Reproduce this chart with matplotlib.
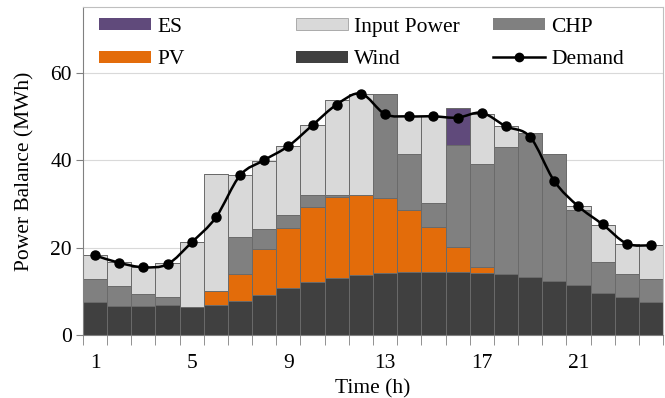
import numpy as np
import matplotlib
matplotlib.use('Agg')
import matplotlib.pyplot as plt
from matplotlib.path import Path
from matplotlib.patches import PathPatch, Patch
from matplotlib.lines import Line2D

# hourly power balance (MWh)
hours = np.arange(1, 25)
wind = [7.5, 6.6, 6.6, 6.9, 6.4, 6.9, 7.8, 9.1, 10.7, 12.1, 13.0, 13.8,
        14.2, 14.3, 14.3, 14.3, 14.1, 13.9, 13.2, 12.3, 11.4, 9.5, 8.6, 7.5]
pv = [0, 0, 0, 0, 0, 3.1, 6.1, 10.5, 13.8, 17.1, 18.5, 18.1,
      17.1, 14.2, 10.4, 5.9, 1.5, 0, 0, 0, 0, 0, 0, 0]
chp = [5.4, 4.7, 2.8, 1.7, 0, 0, 8.5, 4.6, 2.9, 2.8, 0.4, 0,
       23.7, 12.8, 5.5, 23.3, 23.5, 29.1, 33.1, 29.0, 17.1, 7.1, 5.3, 5.4]
input_power = [5.3, 5.4, 6.1, 7.8, 14.8, 26.9, 14.1, 15.7, 15.8, 16.0, 21.9, 23.3,
               0, 8.7, 19.8, 0, 11.5, 4.7, 0, 0, 1.0, 8.5, 7.0, 7.6]
es = [0, 0, 0, 0, 0, 0, 0, 0, 0, 0, 0, 0,
      0, 0, 0, 8.3, 0, 0, 0, 0, 0, 0, 0, 0]
demand = [18.2, 16.5, 15.5, 16.2, 21.2, 26.9, 36.5, 40.0, 43.2, 48.0, 52.7, 55.2,
          50.5, 50.0, 50.0, 49.7, 50.8, 47.7, 45.3, 35.2, 29.4, 25.3, 20.9, 20.5]
xtick_labels = [1, 5, 9, 13, 17, 21]

COLORS = {'Wind': '#404040', 'PV': '#E36C0A', 'CHP': '#808080',
          'Input Power': '#D9D9D9', 'ES': '#604A7B'}
EDGE = '#6a6a6a'
FONT = 'Liberation Serif'
FS = 15.5

plt.rcParams['font.family'] = FONT


def smooth_path(x, y):
    """Excel-style smoothed line: Catmull-Rom segments as cubic Beziers."""
    pts = np.column_stack([x, y]).astype(float)
    ext = np.vstack([pts[0], pts, pts[-1]])
    verts = [pts[0]]
    codes = [Path.MOVETO]
    for i in range(1, len(ext) - 2):
        p0, p1, p2, p3 = ext[i - 1], ext[i], ext[i + 1], ext[i + 2]
        verts += [p1 + (p2 - p0) / 6, p2 - (p3 - p1) / 6, p2]
        codes += [Path.CURVE4] * 3
    return Path(verts, codes)


fig = plt.figure(figsize=(6.65, 3.98), dpi=100)
ax = fig.add_axes([0.1248, 0.1583, 0.8722, 0.8241])

series = [('Wind', wind), ('PV', pv), ('CHP', chp),
          ('Input Power', input_power), ('ES', es)]
bottom = np.zeros(len(hours))
for name, vals in series:
    vals = np.asarray(vals, dtype=float)
    ax.bar(hours, vals, width=1.0, bottom=bottom, color=COLORS[name],
           edgecolor=EDGE, linewidth=0.7, zorder=2)
    bottom += vals

ax.add_patch(PathPatch(smooth_path(hours, demand), facecolor='none',
                       edgecolor='black', linewidth=1.8, zorder=3))
ax.plot(hours, demand, linestyle='none', marker='o', markersize=6.5,
        color='black', zorder=4)

ax.set_xlim(0.5, 24.5)
ax.set_ylim(0, 75)
ax.set_yticks([0, 20, 40, 60])
ax.set_xticks(xtick_labels)
ax.set_xticks(np.arange(0.5, 25, 1), minor=True)
ax.tick_params(axis='x', which='major', length=0, pad=14, labelsize=FS)
ax.tick_params(axis='x', which='minor', length=7, color='#808080')
ax.tick_params(axis='y', length=5, color='#808080', labelsize=FS, pad=3)
ax.yaxis.grid(True, color='#d9d9d9', linewidth=0.8, zorder=0)
ax.set_axisbelow(True)
for side in ['top', 'right']:
    ax.spines[side].set_color('#bfbfbf')
for side in ['left', 'bottom']:
    ax.spines[side].set_color('#808080')

ax.set_xlabel('Time (h)', fontsize=FS, labelpad=4)
ax.set_ylabel('Power Balance (MWh)', fontsize=FS, labelpad=11)

# legend: three separate columns to mimic the uneven column layout
legend_cols = [
    [Patch(facecolor=COLORS['ES'], edgecolor='none', label='ES'),
     Patch(facecolor=COLORS['PV'], edgecolor='none', label='PV')],
    [Patch(facecolor=COLORS['Input Power'], edgecolor='#a0a0a0', linewidth=0.6, label='Input Power'),
     Patch(facecolor=COLORS['Wind'], edgecolor='none', label='Wind')],
    [Patch(facecolor=COLORS['CHP'], edgecolor='none', label='CHP'),
     Line2D([], [], color='black', linewidth=1.8, marker='o', markersize=6, label='Demand')],
]
col_x = [99, 296, 493]
W, H = 665, 398
for cx, handles in zip(col_x, legend_cols):
    leg = fig.legend(handles=handles, loc='upper left',
                     bbox_to_anchor=(cx / W, 1 - 18 / H),
                     frameon=False, fontsize=FS, borderpad=0, borderaxespad=0,
                     handlelength=2.42, handleheight=0.5, handletextpad=0.28,
                     labelspacing=0.62)

fig.savefig('out.png', dpi=100)
